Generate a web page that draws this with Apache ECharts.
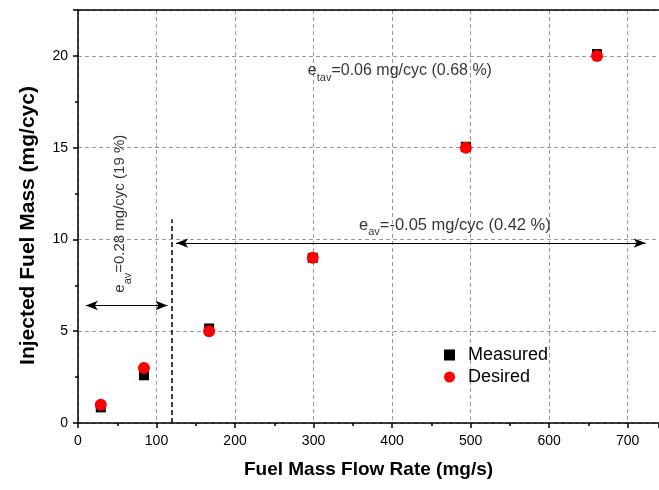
<!DOCTYPE html>
<html>
<head>
<meta charset="utf-8">
<script src="https://cdn.jsdelivr.net/npm/echarts@6/dist/echarts.min.js"></script>
<style>
  html, body { margin: 0; padding: 0; background: #fff; }
  #chart { width: 659px; height: 490px; }
</style>
</head>
<body>
<div id="chart"></div>
<script>
// flow rate (mg/s) of each test point
const flowRate = [29, 84, 167, 299, 494, 661]
// injected fuel mass (mg/cyc)
const measured = [0.85, 2.6, 5.15, 9.0, 15.05, 20.1]
const desired = [1.0, 3.0, 5.0, 9.0, 15.0, 20.0]

const font = 'Liberation Sans, Arial, sans-serif'
const myChart = echarts.init(document.getElementById('chart'))

const sub = (main, s, rest) => `{m|${main}}{s|${s}}{m|${rest}}`
const makeRich = (size) => ({
  m: { fontSize: size, fontFamily: font, color: '#000', lineHeight: 17, verticalAlign: 'top' },
  s: { fontSize: 11, fontFamily: font, color: '#000', lineHeight: 31, verticalAlign: 'middle' }
})

// annotation labels, placed in data coordinates
const notes = [
  { value: [410, 18.8], text: sub('e', 'tav', '=0.06 mg/cyc (0.68 %)'), rotate: 0, size: 16 },
  { value: [480, 10.4], text: sub('e', 'av', '=-0.05 mg/cyc (0.42 %)'), rotate: 0, size: 16.5 },
  { value: [64, 11.4], text: sub('e', 'av', '=0.28 mg/cyc (19 %)'), rotate: 90, size: 15 }
]

const option = {
  animation: false,
  grid: { left: 78, right: 0, top: 10, bottom: 67 },
  legend: {
    data: [
      { name: 'Measured', icon: 'rect' },
      { name: 'Desired', icon: 'circle' }
    ],
    orient: 'vertical',
    left: 439,
    top: 341,
    itemWidth: 11,
    itemHeight: 11,
    itemGap: 4,
    textStyle: { fontSize: 18, fontFamily: font, color: '#000', padding: [0, 0, 0, 8] }
  },
  xAxis: [
    {
      type: 'value',
      min: 0,
      max: 740,
      interval: 100,
      name: 'Fuel Mass Flow Rate (mg/s)',
      nameLocation: 'middle',
      nameGap: 37,
      nameTextStyle: { fontSize: 19, fontWeight: 'bold', fontFamily: font, color: '#000' },
      axisLine: { lineStyle: { color: '#000', width: 1.5 } },
      axisTick: { length: 5, lineStyle: { color: '#000', width: 1.5 } },
      minorTick: { show: true, splitNumber: 2, length: 3, lineStyle: { color: '#000', width: 1.5 } },
      axisLabel: { fontSize: 14, fontFamily: font, color: '#000', showMaxLabel: false, margin: 11 },
      splitLine: { show: true, lineStyle: { color: '#999', type: [4, 3], width: 1 } }
    },
    {
      type: 'value',
      position: 'top',
      min: 0,
      max: 740,
      axisLine: { show: true, onZero: false, lineStyle: { color: '#000', width: 1.5 } },
      axisTick: { show: false },
      axisLabel: { show: false },
      splitLine: { show: false }
    }
  ],
  yAxis: {
    type: 'value',
    min: 0,
    max: 22.5,
    interval: 5,
    name: 'Injected Fuel Mass (mg/cyc)',
    nameLocation: 'middle',
    nameGap: 39,
    nameTextStyle: { fontSize: 21, fontWeight: 'bold', fontFamily: font, color: '#000', padding: [0, 18, 0, 0] },
    axisLine: { show: true, lineStyle: { color: '#000', width: 1.5 } },
    axisTick: { show: true, length: 5, lineStyle: { color: '#000', width: 1.5 } },
    minorTick: { show: true, splitNumber: 2, length: 3, lineStyle: { color: '#000', width: 1.5 } },
    axisLabel: { fontSize: 14, fontFamily: font, color: '#000', showMaxLabel: false, margin: 10 },
    splitLine: { show: true, lineStyle: { color: '#999', type: [4, 3], width: 1 } }
  },
  series: [
    {
      name: 'Measured',
      type: 'scatter',
      symbol: 'rect',
      symbolSize: 10,
      itemStyle: { color: '#000', opacity: 1 },
      data: flowRate.map((x, i) => [x, measured[i]]),
      z: 3
    },
    {
      name: 'Desired',
      type: 'scatter',
      symbol: 'circle',
      symbolSize: 12,
      itemStyle: { color: '#ff0000', opacity: 1 },
      data: flowRate.map((x, i) => [x, desired[i]]),
      z: 4
    },
    {
      name: 'notes',
      type: 'scatter',
      symbolSize: 0,
      silent: true,
      data: notes.map(n => ({
        value: n.value,
        label: {
          show: true,
          position: 'inside',
          rotate: n.rotate,
          formatter: n.text,
          rich: makeRich(n.size)
        }
      })),
      markLine: {
        silent: true,
        animation: false,
        label: { show: false },
        lineStyle: { color: '#000', width: 1, type: 'solid' },
        symbol: ['arrow', 'arrow'],
        symbolSize: [7, 12],
        data: [
          [{ coord: [10, 6.4] }, { coord: [114, 6.4] }],
          [{ coord: [125, 9.8] }, { coord: [723, 9.8] }],
          [
            { coord: [120, 0], symbol: 'none', lineStyle: { type: [5, 3], width: 1.5 } },
            { coord: [120, 11.1], symbol: 'none' }
          ]
        ]
      }
    }
  ]
}

myChart.setOption(option)
</script>
</body>
</html>
